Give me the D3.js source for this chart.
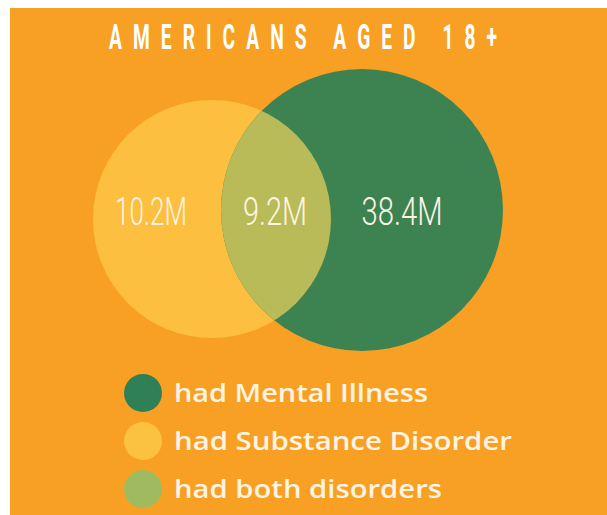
<!doctype html>
<html>
<head>
<meta charset="utf-8">
<title>Americans aged 18+</title>
<script src="https://d3js.org/d3.v7.min.js"></script>
<style>
  body { margin: 0; background: #fff; }
  svg { display: block; }
</style>
</head>
<body>
<svg class="venn"></svg>
<script>
    // values (millions)
    var regions = ["Substance only", "Both", "Mental only"];
    var regionValues = [10.2, 9.2, 38.4];
    var regionLabels = ["10.2M", "9.2M", "38.4M"];

    var legendLabels = ["had Mental Illness", "had Substance Disorder", "had both disorders"];
    var legendColors = ["#2f7f57", "#fbc241", "#a0bb5f"];

    var titleText = "AMERICANS AGED 18+";

    var width = 607, height = 515;
    var bg = "#f8a024";
    var yellow = "#fcbf40", green = "#3d8352", both = "#b8bb58";
    var cream = "#fff4e4";

    var svg = d3.select(".venn")
        .attr("width", width)
        .attr("height", height);

    svg.append("rect")
        .attr("x", 10).attr("y", 8)
        .attr("width", width - 10).attr("height", height - 8)
        .attr("fill", bg);

    // condensed, widely spaced title: squeeze glyphs, spread letters
    var squeeze = 0.55;
    svg.append("text")
        .attr("transform", `translate(303, 49) scale(${squeeze}, 1)`)
        .attr("text-anchor", "middle")
        .attr("fill", "#fff")
        .attr("font-family", "Roboto, sans-serif")
        .attr("font-weight", "bold")
        .attr("font-size", 35)
        .attr("textLength", 388 / squeeze)
        .attr("lengthAdjust", "spacing")
        .text(titleText);

    // circle sizes from the two totals
    var substanceTotal = regionValues[0] + regionValues[1],
        mentalTotal = regionValues[2] + regionValues[1];
    var r = d3.scaleLinear()
        .domain([substanceTotal, mentalTotal])
        .range([119, 141]);

    var cy = 217;
    var yellowCx = 212, greenCx = 362;

    var defs = svg.append("defs");
    defs.append("clipPath").attr("id", "yclip")
        .append("circle")
        .attr("cx", yellowCx).attr("cy", cy + 2)
        .attr("r", r(substanceTotal));

    svg.append("circle")
        .attr("cx", yellowCx).attr("cy", cy + 2)
        .attr("r", r(substanceTotal))
        .attr("fill", yellow);
    svg.append("circle")
        .attr("cx", greenCx).attr("cy", cy - 7)
        .attr("r", r(mentalTotal))
        .attr("fill", green);
    svg.append("circle")
        .attr("cx", greenCx).attr("cy", cy - 7)
        .attr("r", r(mentalTotal))
        .attr("clip-path", "url(#yclip)")
        .attr("fill", both);

    var labelX = d3.scaleOrdinal().domain(regions).range([151, 275, 402]);
    var labelW = [72, 64, 81];

    svg.selectAll(".val")
        .data(regions)
        .enter()
        .append("text")
        .attr("class", "val")
        .attr("x", d => labelX(d))
        .attr("y", 225)
        .attr("text-anchor", "middle")
        .attr("fill", cream)
        .attr("font-family", "Roboto, sans-serif")
        .attr("font-weight", 300)
        .attr("font-size", 39)
        .attr("textLength", (d, i) => labelW[i])
        .attr("lengthAdjust", "spacingAndGlyphs")
        .text((d, i) => regionLabels[i]);

    var ly = d3.scalePoint()
        .domain(legendLabels)
        .range([393, 489]);
    var legendW = [254, 338, 268];

    var item = svg.selectAll(".leg")
        .data(legendLabels)
        .enter()
        .append("g")
        .attr("class", "leg")
        .attr("transform", d => `translate(0, ${ly(d)})`);

    item.append("circle")
        .attr("cx", 143).attr("cy", 0)
        .attr("r", 19)
        .attr("fill", (d, i) => legendColors[i]);

    item.append("text")
        .attr("x", 174).attr("y", 9)
        .attr("fill", cream)
        .attr("font-family", "Open Sans, sans-serif")
        .attr("font-weight", 600)
        .attr("font-size", 25)
        .attr("textLength", (d, i) => legendW[i])
        .attr("lengthAdjust", "spacingAndGlyphs")
        .text(d => d);
</script>
</body>
</html>
